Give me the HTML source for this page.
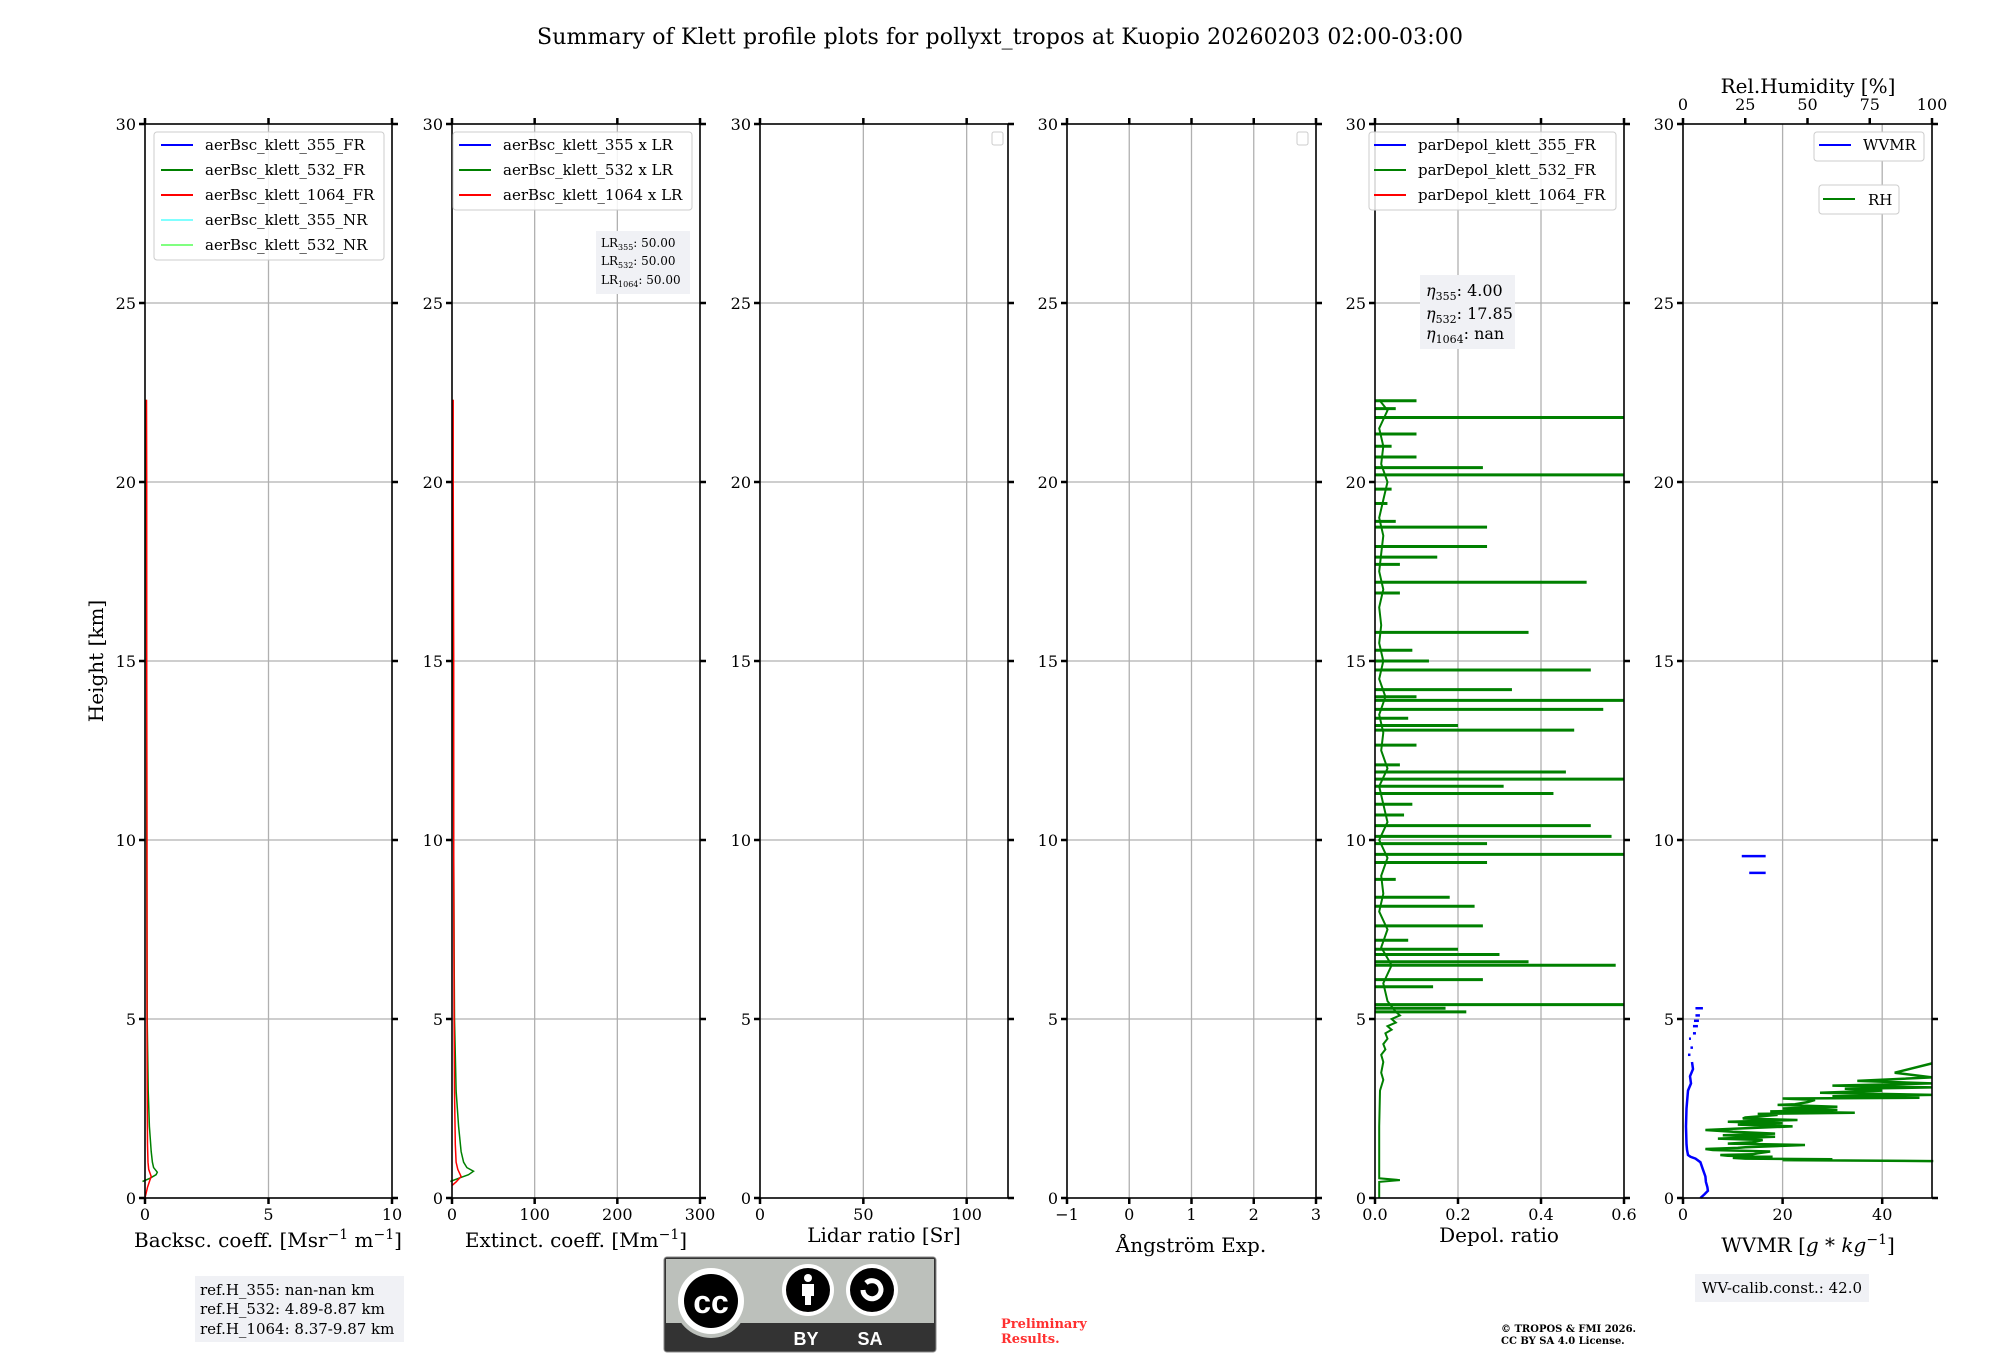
<!DOCTYPE html>
<html><head><meta charset="utf-8"><style>
html,body{margin:0;padding:0;background:#fff;}
svg{display:block;font-family:"DejaVu Serif","Liberation Serif",serif;}
</style></head><body>
<svg id="fig" width="2000" height="1360" viewBox="0 0 2000 1360" xmlns="http://www.w3.org/2000/svg">
<rect width="2000" height="1360" fill="#fff"/>
<text x="1000" y="44" text-anchor="middle" font-size="22" textLength="926">Summary of Klett profile plots for pollyxt_tropos at Kuopio 20260203 02:00-03:00</text>
<g id="plots"></g>
</svg>
<script>
// ---- data ----
const heightTicks = [0,5,10,15,20,25,30];
const bscH532 = [0.46,0.55,0.65,0.72,0.85,1.0,1.3,2,3,4,5,7,10,15,20,22.3];
const bsc532 = [-0.1,0.2,0.45,0.5,0.35,0.3,0.25,0.18,0.13,0.11,0.09,0.08,0.07,0.06,0.05,0.04];
const bscH1064 = [0,0.3,0.5,0.6,0.8,1,1.5,3,5,10,15,20,22.3];
const bsc1064 = [0,0.1,0.2,0.25,0.15,0.12,0.1,0.09,0.08,0.08,0.07,0.07,0.06];
const extH532 = [0.46,0.55,0.65,0.75,0.85,1.0,1.3,2,3,4,5,7,10,15,20,22.3];
const ext532 = [-2,8,20,26,18,14,11,8,5,4,3,2.5,2,1.5,1,0.8];
const extH1064 = [0.35,0.45,0.6,0.8,1,1.5,3,5,10,15,20,22.3];
const ext1064 = [0,5,11,7,5,4,3,2.5,2,2,1.5,1.5];
const depolBaseH = [0,0.45,0.5,0.55,1,2,3,3.3,3.5,3.8,4,4.15,4.3,4.45,4.6,4.7,4.8,4.9,5.0,5.1,5.2,5.5,6,6.5,7,7.5,8,8.5,9,9.5,10,10.5,11,11.5,12,12.5,13,13.5,14,14.5,15,15.5,16,16.5,17,17.5,18,18.5,19,19.5,20,20.5,21,21.5,22,22.3];
const depolBase = [0.01,0.01,0.06,0.01,0.01,0.01,0.012,0.02,0.015,0.02,0.015,0.025,0.02,0.03,0.025,0.04,0.03,0.05,0.04,0.06,0.05,0.03,0.02,0.04,0.015,0.03,0.01,0.02,0.015,0.03,0.01,0.03,0.02,0.01,0.03,0.015,0.02,0.01,0.025,0.01,0.02,0.01,0.015,0.01,0.02,0.01,0.015,0.02,0.01,0.02,0.03,0.015,0.02,0.01,0.03,0.01];
const spikeH = [22.27,22.05,21.8,21.34,20.7,20.4,20.2,19.8,19.4,18.74,18.2,17.9,17.7,17.2,16.9,15.8,15.3,15.0,14.75,14.2,13.9,13.65,13.2,13.07,12.65,11.9,11.7,11.5,11.3,11.0,10.4,10.1,9.9,9.6,9.37,8.4,8.15,7.6,6.95,6.8,6.6,6.5,6.1,5.9,5.4,5.3,5.2,12.1,13.4,14.0,10.7,8.9,7.2,18.9,21.0];
const spikeV = [0.1,0.05,0.6,0.1,0.1,0.26,0.6,0.04,0.03,0.27,0.27,0.15,0.06,0.51,0.06,0.37,0.09,0.13,0.52,0.33,0.6,0.55,0.2,0.48,0.1,0.46,0.6,0.31,0.43,0.09,0.52,0.57,0.27,0.6,0.27,0.18,0.24,0.26,0.2,0.3,0.37,0.58,0.26,0.14,0.6,0.17,0.22,0.06,0.08,0.1,0.07,0.05,0.08,0.05,0.04];
const wvH = [0,0.1,0.2,0.3,0.45,0.6,0.8,1.0,1.1,1.15,1.2,1.35,1.5,2,2.5,3,3.2,3.4,3.6,3.8];
const wv = [3.5,4.3,5,4.9,4.6,4.5,4.0,3.5,2.5,1.5,1.0,0.8,0.7,0.6,0.7,1.0,1.6,1.4,2.0,1.8];
const wvDotH = [4.0,4.2,4.45,4.6,4.8,4.95,5.1,5.3,9.08,9.55];
const wvDotA = [1.0,1.5,1.2,2.0,2.0,2.2,2.5,2.5,13.3,11.8];
const wvDotB = [1.5,2.0,1.6,2.6,3.0,3.2,3.4,4.0,16.6,16.6];
const rhH = [1.0,1.03,1.06,1.08,1.1,1.12,1.15,1.18,1.2,1.22,1.25,1.3,1.34,1.37,1.4,1.42,1.48,1.52,1.56,1.62,1.66,1.71,1.75,1.8,1.85,1.9,1.95,2.0,2.05,2.09,2.13,2.18,2.22,2.25,2.32,2.35,2.38,2.42,2.46,2.5,2.55,2.6,2.62,2.68,2.74,2.78,2.8,2.84,2.88,2.94,3.0,3.05,3.09,3.14,3.2,3.27,3.37,3.5,3.76];
const rh = [100,100,40,60,25,20,36,18,15,28,30,35,12,9,22,25,49,18,28,32,14,37,16,37,20,9,25,44,22,40,18,46,24,25,38,30,69,35,62,40,62,38,45,50,53,40,95,60,100,55,80,65,100,60,100,70,100,85,100];
// ---- layout ----
const Y0 = 1198, Y30 = 124;
const yS = h => Y0 + (Y30 - Y0) * h / 30;
const panels = [
 {x0:145,x1:392,min:0,max:10,ticks:[0,5,10],lab:['0','5','10'],grid:[5],name:'backscatter'},
 {x0:452,x1:700,min:0,max:300,ticks:[0,100,200,300],lab:['0','100','200','300'],grid:[100,200],name:'extinction'},
 {x0:760,x1:1008,min:0,max:120,ticks:[0,50,100],lab:['0','50','100'],grid:[50,100],name:'lidar-ratio'},
 {x0:1067,x1:1316,min:-1,max:3,ticks:[-1,0,1,2,3],lab:['\u22121','0','1','2','3'],grid:[0,1,2],name:'angstrom'},
 {x0:1375,x1:1624,min:0,max:0.6,ticks:[0,0.2,0.4,0.6],lab:['0.0','0.2','0.4','0.6'],grid:[0.2,0.4],name:'depol'},
 {x0:1683,x1:1932,min:0,max:50,ticks:[0,20,40],lab:['0','20','40'],grid:[20,40],name:'wvmr'}
];
const NS='http://www.w3.org/2000/svg';
const root=document.getElementById('plots');
function mk(tag,attrs,parent,text){const e=document.createElementNS(NS,tag);for(const k in attrs)e.setAttribute(k,attrs[k]);if(text!==undefined)e.textContent=text;(parent||root).appendChild(e);return e;}
function xs(p,v){return p.x0+(p.x1-p.x0)*(v-p.min)/(p.max-p.min);}
function line(p,H,V,color,g,w){let d='';for(let i=0;i<H.length;i++){d+=(i?'L':'M')+xs(p,V[i]).toFixed(1)+','+yS(H[i]).toFixed(1);}return mk('path',{d:d,fill:'none',stroke:color,'stroke-width':w||1.5},g);}

panels.forEach((p,i)=>{
 const g=mk('g',{});
 
 
 heightTicks.slice(1,6).forEach(h=>mk('line',{x1:p.x0,x2:p.x1,y1:yS(h),y2:yS(h),stroke:'#b0b0b0','stroke-width':1.3},g));
 p.grid.forEach(v=>mk('line',{x1:xs(p,v),x2:xs(p,v),y1:Y30,y2:Y0,stroke:'#b0b0b0','stroke-width':1.3},g));
 const ya=mk('g',{},g);
 
 
 heightTicks.forEach(h=>{
  mk('line',{x1:p.x0-6,x2:p.x0,y1:yS(h),y2:yS(h),stroke:'#000','stroke-width':2.5},ya);
  mk('line',{x1:p.x1,x2:p.x1+6,y1:yS(h),y2:yS(h),stroke:'#000','stroke-width':2.5},ya);
  mk('text',{x:p.x0-9,y:yS(h)+6,'text-anchor':'end','font-size':16},ya,String(h));
 });
 const xa=mk('g',{},g);
 
 
 p.ticks.forEach((v,k)=>{
  const x=xs(p,v);
  mk('line',{x1:x,x2:x,y1:Y0,y2:Y0+6,stroke:'#000','stroke-width':2.5},xa);
  mk('text',{x:x,y:Y0+22,'text-anchor':'middle','font-size':16},xa,p.lab[k]);
  if(i!==5) mk('line',{x1:x,x2:x,y1:Y30-6,y2:Y30,stroke:'#000','stroke-width':2.5},xa);
 });
});

const P=panels;
let s=line(P[0],bscH532,bsc532,'#008000');


s=line(P[0],bscH1064,bsc1064,'#ff0000');


s=line(P[1],extH532,ext532,'#008000');


s=line(P[1],extH1064,ext1064,'#ff0000');


s=line(P[4],depolBaseH,depolBase,'#008000',null,2);


spikeH.forEach((h,k)=>{
 const y=yS(h);
 const e=mk('line',{x1:P[4].x0,x2:Math.min(xs(P[4],spikeV[k]),P[4].x1),y1:y,y2:y,stroke:'#008000','stroke-width':3});
 
 
});
const rhP={x0:1683,x1:1932,min:0,max:100};
s=line(rhP,rhH,rh.map(v=>Math.min(v,100)),'#008000',null,2.5);


s=line(P[5],wvH,wv,'#0000ff',null,2.5);


wvDotH.forEach((h,k)=>{
 const e=mk('line',{x1:xs(P[5],wvDotA[k]),x2:xs(P[5],wvDotB[k]),y1:yS(h),y2:yS(h),stroke:'#0000ff','stroke-width':2.5});
 
 
});
panels.forEach(p=>{mk('rect',{x:p.x0,y:Y30,width:p.x1-p.x0,height:Y0-Y30,fill:'none',stroke:'#000','stroke-width':1.6});});
const rhTicks=[0,25,50,75,100];
const rg=mk('g',{});


rhTicks.forEach(v=>{const x=xs(rhP,v);mk('line',{x1:x,x2:x,y1:Y30-6,y2:Y30,stroke:'#000','stroke-width':2.5},rg);mk('text',{x:x,y:110,'text-anchor':'middle','font-size':16},rg,String(v));});
</script>

<script>
const fig=document.getElementById('fig');
fig.insertAdjacentHTML('beforeend',`
<g font-size="20">
<text x="268" y="1247" text-anchor="middle">Backsc. coeff. [Msr<tspan font-size="14" dy="-8">−1</tspan><tspan dy="8"> m</tspan><tspan font-size="14" dy="-8">−1</tspan><tspan dy="8">]</tspan></text>
<text x="576" y="1247" text-anchor="middle">Extinct. coeff. [Mm<tspan font-size="14" dy="-8">−1</tspan><tspan dy="8">]</tspan></text>
<text x="884" y="1242" text-anchor="middle">Lidar ratio [Sr]</text>
<text x="1191" y="1252" text-anchor="middle">Ångström Exp.</text>
<text x="1499" y="1242" text-anchor="middle">Depol. ratio</text>
<text x="1808" y="1252" text-anchor="middle">WVMR [<tspan font-style="italic">g</tspan> * <tspan font-style="italic">kg</tspan><tspan font-size="14" dy="-8">−1</tspan><tspan dy="8">]</tspan></text>
<text x="1808" y="93" text-anchor="middle">Rel.Humidity [%]</text>
<text x="0" y="0" transform="translate(103,661) rotate(-90)" text-anchor="middle">Height [km]</text>
</g>
<g font-size="15">
<rect x="154" y="132" width="230" height="128" rx="3" fill="#fff" fill-opacity="0.85" stroke="#ccc"/>
<line x1="161" x2="193" y1="145" y2="145" stroke="#0000ff" stroke-width="2"/><text x="205" y="150">aerBsc_klett_355_FR</text>
<line x1="161" x2="193" y1="170" y2="170" stroke="#008000" stroke-width="2"/><text x="205" y="175">aerBsc_klett_532_FR</text>
<line x1="161" x2="193" y1="195" y2="195" stroke="#ff0000" stroke-width="2"/><text x="205" y="200">aerBsc_klett_1064_FR</text>
<line x1="161" x2="193" y1="220" y2="220" stroke="#80ffff" stroke-width="2"/><text x="205" y="225">aerBsc_klett_355_NR</text>
<line x1="161" x2="193" y1="245" y2="245" stroke="#80ff80" stroke-width="2"/><text x="205" y="250">aerBsc_klett_532_NR</text>
</g>
<g font-size="15">
<rect x="453" y="132" width="239" height="78" rx="3" fill="#fff" fill-opacity="0.85" stroke="#ccc"/>
<line x1="459" x2="491" y1="145" y2="145" stroke="#0000ff" stroke-width="2"/><text x="503" y="150">aerBsc_klett_355 x LR</text>
<line x1="459" x2="491" y1="170" y2="170" stroke="#008000" stroke-width="2"/><text x="503" y="175">aerBsc_klett_532 x LR</text>
<line x1="459" x2="491" y1="195" y2="195" stroke="#ff0000" stroke-width="2"/><text x="503" y="200">aerBsc_klett_1064 x LR</text>
</g>
<g font-size="12">
<rect x="596" y="231" width="94" height="63" fill="#f0f1f5"/>
<text x="601" y="247">LR<tspan font-size="8" dy="3">355</tspan><tspan dy="-3">: 50.00</tspan></text>
<text x="601" y="265">LR<tspan font-size="8" dy="3">532</tspan><tspan dy="-3">: 50.00</tspan></text>
<text x="601" y="284">LR<tspan font-size="8" dy="3">1064</tspan><tspan dy="-3">: 50.00</tspan></text>
</g>
<rect x="992" y="132" width="11" height="13" rx="2" fill="#fff" stroke="#ccc"/>
<rect x="1297" y="132" width="11" height="13" rx="2" fill="#fff" stroke="#ccc"/>
<g font-size="15">
<rect x="1369" y="132" width="247" height="78" rx="3" fill="#fff" fill-opacity="0.85" stroke="#ccc"/>
<line x1="1374" x2="1406" y1="145" y2="145" stroke="#0000ff" stroke-width="2"/><text x="1418" y="150">parDepol_klett_355_FR</text>
<line x1="1374" x2="1406" y1="170" y2="170" stroke="#008000" stroke-width="2"/><text x="1418" y="175">parDepol_klett_532_FR</text>
<line x1="1374" x2="1406" y1="195" y2="195" stroke="#ff0000" stroke-width="2"/><text x="1418" y="200">parDepol_klett_1064_FR</text>
</g>
<g font-size="16">
<rect x="1420" y="275" width="95" height="74" fill="#f0f1f5"/>
<text x="1426" y="296"><tspan font-style="italic">η</tspan><tspan font-size="11" dy="4">355</tspan><tspan dy="-4">: 4.00</tspan></text>
<text x="1426" y="319"><tspan font-style="italic">η</tspan><tspan font-size="11" dy="4">532</tspan><tspan dy="-4">: 17.85</tspan></text>
<text x="1426" y="339"><tspan font-style="italic">η</tspan><tspan font-size="11" dy="4">1064</tspan><tspan dy="-4">: nan</tspan></text>
</g>
<g font-size="15">
<rect x="1814" y="132" width="110" height="29" rx="3" fill="#fff" stroke="#ccc"/>
<line x1="1819" x2="1851" y1="145" y2="145" stroke="#0000ff" stroke-width="2"/><text x="1863" y="150">WVMR</text>
</g>
<g font-size="15">
<rect x="1819" y="185" width="80" height="29" rx="3" fill="#fff" stroke="#ccc"/>
<line x1="1823" x2="1855" y1="199" y2="199" stroke="#008000" stroke-width="2"/><text x="1868" y="205">RH</text>
</g>
<g font-size="15">
<rect x="195" y="1276" width="209" height="66" fill="#f0f1f5"/>
<text x="200" y="1295">ref.H_355: nan-nan km</text>
<text x="200" y="1314">ref.H_532: 4.89-8.87 km</text>
<text x="200" y="1334">ref.H_1064: 8.37-9.87 km</text>
</g>
<g>
<rect x="664" y="1257" width="272" height="95" rx="3" fill="#333" stroke="#888"/>
<rect x="666" y="1259" width="268" height="64" fill="#bcc0bb"/>
<circle cx="711" cy="1301" r="37" fill="#bcc0bb"/>
<circle cx="711" cy="1301" r="33" fill="#fff"/>
<circle cx="711" cy="1301" r="27" fill="#000"/>
<text x="711" y="1313" text-anchor="middle" font-family="Liberation Sans, sans-serif" font-weight="bold" font-size="32" fill="#fff">cc</text>
<circle cx="808" cy="1290" r="26" fill="#fff"/><circle cx="808" cy="1290" r="22" fill="#000"/>
<circle cx="808" cy="1278" r="4" fill="#fff"/><rect x="802" y="1284" width="12" height="12" fill="#fff"/><rect x="805" y="1295" width="6" height="10" fill="#fff"/>
<circle cx="872" cy="1290" r="26" fill="#fff"/><circle cx="872" cy="1290" r="22" fill="#000"/>
<path d="M863 1290 a9 9 0 1 0 3 -7" fill="none" stroke="#fff" stroke-width="5"/>
<text x="806" y="1345" text-anchor="middle" font-family="Liberation Sans, sans-serif" font-weight="bold" font-size="18" fill="#fff">BY</text>
<text x="870" y="1345" text-anchor="middle" font-family="Liberation Sans, sans-serif" font-weight="bold" font-size="18" fill="#fff">SA</text>
</g>
<g font-size="13" font-weight="bold" fill="#ff3030">
<text x="1001" y="1328">Preliminary</text><text x="1001" y="1343">Results.</text>
</g>
<g font-size="10" font-weight="bold">
<text x="1501" y="1332">© TROPOS &amp; FMI 2026.</text><text x="1501" y="1344">CC BY SA 4.0 License.</text>
</g>
<g font-size="15">
<rect x="1695" y="1274" width="174" height="28" fill="#f0f1f5"/>
<text x="1782" y="1293" text-anchor="middle">WV-calib.const.: 42.0</text>
</g>`);
</script>
</body></html>
